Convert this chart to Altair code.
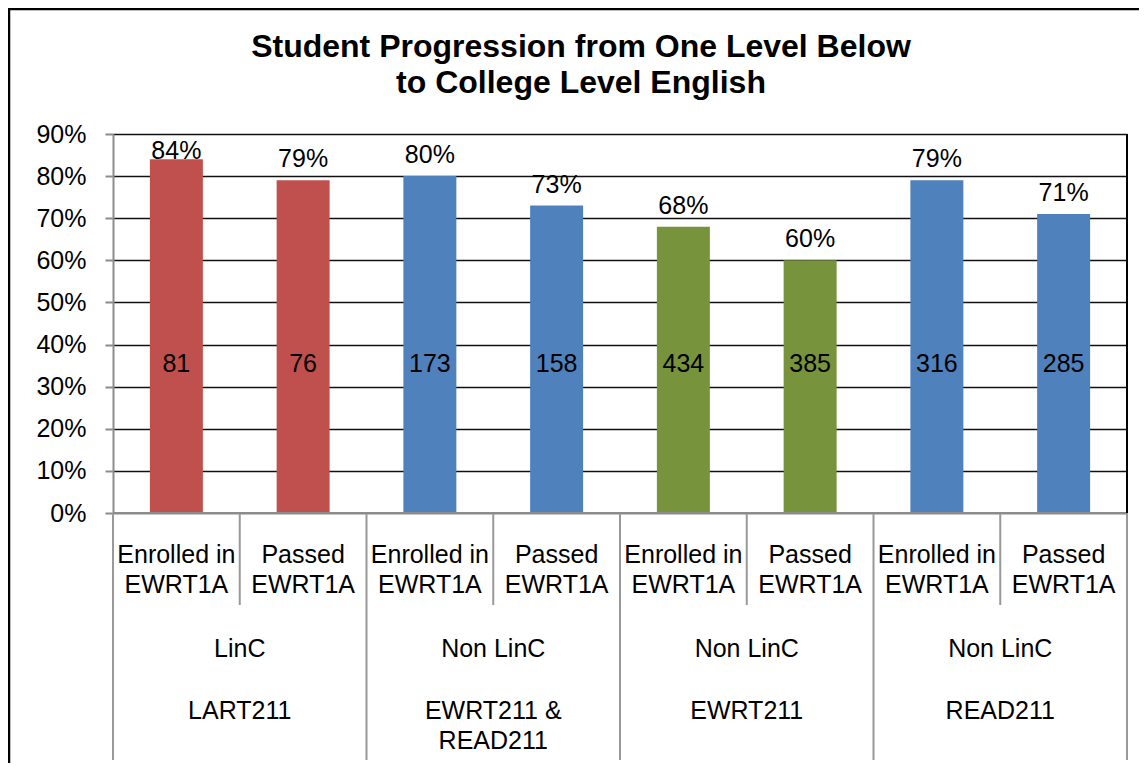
import altair as alt
import pandas as pd

# ---- data ----
title_text = "Student Progression from One Level Below\nto College Level English"
sub_labels = ["Enrolled in\nEWRT1A", "Passed\nEWRT1A",
              "Enrolled in\nEWRT1A", "Passed\nEWRT1A",
              "Enrolled in\nEWRT1A", "Passed\nEWRT1A",
              "Enrolled in\nEWRT1A", "Passed\nEWRT1A"]
group_top = ["LinC", "Non LinC", "Non LinC", "Non LinC"]
group_bottom = ["LART211", "EWRT211  &\nREAD211", "EWRT211", "READ211"]
group_colors = ["#C0504D", "#4F81BD", "#77933C", "#4F81BD"]
pct = [0.84, 0.79, 0.80, 0.73, 0.68, 0.60, 0.79, 0.71]
counts = [81, 76, 173, 158, 434, 385, 316, 285]
y_ticks = [0.0, 0.1, 0.2, 0.3, 0.4, 0.5, 0.6, 0.7, 0.8, 0.9]

n = len(pct)
per_group = n // len(group_top)

df = pd.DataFrame({
    "key": list(range(n)),
    "sub": sub_labels,
    "pct": pct,
    "count": counts,
    "color": [group_colors[i // per_group] for i in range(n)],
})
groups = pd.DataFrame({
    "center": [g * per_group + per_group / 2 for g in range(len(group_top))],
    "top": group_top,
    "bottom": group_bottom,
})
bounds = pd.DataFrame({"b": list(range(n + 1))})
bounds["long"] = bounds["b"] % per_group == 0

W, H = 1014, 379
FONT = "Liberation Sans"

band_x = alt.X("key:O", scale=alt.Scale(paddingInner=0.582, paddingOuter=0.291),
               axis=None)
lin_x = lambda f: alt.X(f, scale=alt.Scale(domain=[0, n]), axis=None)

y_enc = alt.Y("pct:Q", scale=alt.Scale(domain=[0, 0.9]),
              axis=alt.Axis(values=y_ticks, format=".0%", title=None,
                            labelFontSize=25, labelFont=FONT, labelColor="black",
                            labelPadding=19, tickSize=8, tickColor="#8c8c8c",
                            tickWidth=2, domainColor="#8c8c8c", domainWidth=2,
                            gridColor="#111111", gridWidth=1.6))

base = alt.Chart(df)

bars = base.mark_bar().encode(
    x=band_x, y=y_enc, color=alt.Color("color:N", scale=None))

pct_labels = base.transform_calculate(
    ly="min(datum.pct + 0.031, 0.84)"
).mark_text(fontSize=25, font=FONT, baseline="alphabetic", color="black").encode(
    x=band_x, y=alt.Y("ly:Q"), text=alt.Text("pct:Q", format=".0%"))

count_labels = base.mark_text(fontSize=25, font=FONT, baseline="middle",
                              color="black").encode(
    x=band_x, y=alt.datum(0.355), text="count:Q")

sub_text = base.mark_text(fontSize=25, font=FONT, baseline="alphabetic",
                          lineBreak="\n", lineHeight=29.5, color="black").encode(
    x=band_x, y=alt.value(429), text="sub:N")

top_text = alt.Chart(groups).mark_text(fontSize=25, font=FONT, baseline="alphabetic",
                                       color="black").encode(
    x=lin_x("center:Q"), y=alt.value(523), text="top:N")

bottom_text = alt.Chart(groups).mark_text(fontSize=25, font=FONT, baseline="alphabetic",
                                          lineBreak="\n", lineHeight=29.5,
                                          color="black").encode(
    x=lin_x("center:Q"), y=alt.value(585), text="bottom:N")

sep_short = alt.Chart(bounds).transform_filter("!datum.long").mark_rule(
    color="#999999", strokeWidth=2).encode(
    x=lin_x("b:Q"), y=alt.value(H), y2=alt.value(471))

sep_long = alt.Chart(bounds).transform_filter("datum.long").mark_rule(
    color="#999999", strokeWidth=2).encode(
    x=lin_x("b:Q"), y=alt.value(H), y2=alt.value(626))

bottom_line = alt.Chart(df).mark_rule(color="#8c8c8c", strokeWidth=2).encode(
    x=alt.value(0), x2=alt.value("width"), y=alt.datum(0))

right_border = alt.Chart(df).mark_rule(color="black", strokeWidth=2).encode(
    x=alt.value("width"), y=alt.value(0), y2=alt.value("height"))

title = alt.Chart(pd.DataFrame({"t": [title_text]})).mark_text(
    fontSize=32, font=FONT, fontWeight="bold", align="center",
    baseline="alphabetic", lineBreak="\n", lineHeight=36, color="black").encode(
    x=alt.value(468), y=alt.value(-77), text="t:N")

one = pd.DataFrame({"a": [0]})
frame_left = alt.Chart(one).mark_rule(color="black", strokeWidth=2.5).encode(
    x=alt.value(-104), y=alt.value(-126), y2=alt.value(H + 400))
frame_top = alt.Chart(one).mark_rule(color="black", strokeWidth=2.5).encode(
    y=alt.value(-125), x=alt.value(-105), x2=alt.value(W + 200))

chart = alt.layer(
    bars, pct_labels, count_labels, sub_text, top_text, bottom_text,
    sep_short, sep_long, bottom_line, right_border, title, frame_left, frame_top
).resolve_scale(x="independent").properties(
    width=W, height=H,
    autosize=alt.AutoSizeParams(type="none"),
    padding={"left": 105, "top": 126, "right": 12, "bottom": 250},
    background="white",
).configure_view(stroke=None)

chart.save("out.html", embed_options={"renderer": "svg", "actions": False})
